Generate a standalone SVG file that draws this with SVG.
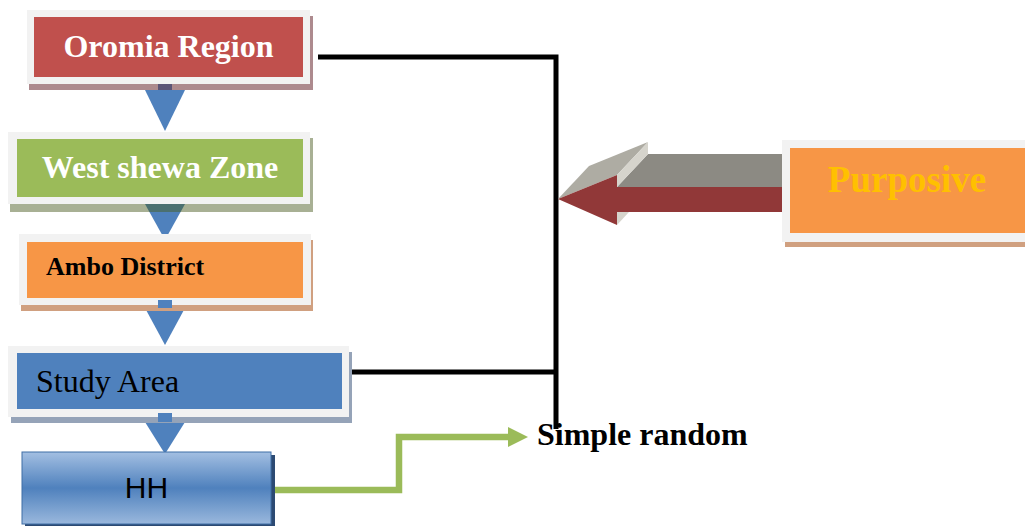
<svg xmlns="http://www.w3.org/2000/svg" width="1025" height="526" viewBox="0 0 1025 526">
  <style>
    .frame { fill: #f2f2f2; }
    .flow { fill: #4f81bd; }
    .bold { font-family: "Liberation Serif", "Times New Roman", serif; font-weight: bold; }
    .serif { font-family: "Liberation Serif", "Times New Roman", serif; }
    .sans { font-family: "Liberation Sans", Arial, sans-serif; }
    .link { fill: none; stroke: #000; stroke-width: 5; }
    .green { fill: none; stroke: #9bbb59; stroke-width: 6.5; }
  </style>
  <defs>
    <linearGradient id="hhFill" x1="0" y1="0" x2="0" y2="1">
      <stop offset="0" stop-color="#a3bfe2"/>
      <stop offset="0.5" stop-color="#4f81bd"/>
      <stop offset="1" stop-color="#9ab8dd"/>
    </linearGradient>
    <marker id="greenHead" markerWidth="20" markerHeight="20" refX="0" refY="10" orient="auto" markerUnits="userSpaceOnUse" viewBox="0 0 20 20">
      <path d="M0,0 L20,10 L0,20 Z" fill="#9bbb59"/>
    </marker>
  </defs>

  <!-- downward flow arrows between the stacked levels -->
  <g id="flow-arrows">
    <polygon class="flow" points="145,90 185,90 165,131"/>
    <polygon class="flow" points="145,204 185,204 165,240"/>
    <rect class="flow" x="158" y="300" width="14" height="8"/>
    <polygon class="flow" points="145,308 185,308 165,345"/>
    <rect class="flow" x="158" y="413" width="14" height="9"/>
    <polygon class="flow" points="145,422 185,422 165,454"/>
  </g>

  <g id="oromia-region">
    <rect x="29" y="16" width="284" height="74" fill="#ad8a8e"/>
    <rect class="frame" x="27" y="10" width="283" height="74"/>
    <rect x="34" y="17" width="269" height="60" fill="#c0504d"/>
    <rect x="158" y="84" width="14" height="6" fill="#5c5577"/>
    <text class="bold" x="168.5" y="57" font-size="32" fill="#ffffff" text-anchor="middle">Oromia Region</text>
  </g>

  <g id="west-shewa-zone">
    <rect x="10" y="138" width="303" height="74" fill="#a8b094"/>
    <rect class="frame" x="8" y="132" width="302" height="72"/>
    <rect x="17" y="139" width="286" height="58" fill="#9bbb59"/>
    <polygon points="145,204 185,204 180.6,212 149.4,212" fill="#4b7070"/>
    <text class="bold" x="160" y="178" font-size="32" fill="#ffffff" text-anchor="middle">West shewa Zone</text>
  </g>

  <g id="ambo-district">
    <rect x="21" y="240" width="292" height="71" fill="#d0a080"/>
    <rect class="frame" x="19" y="234" width="292" height="71"/>
    <rect x="27" y="242" width="276" height="56" fill="#f79646"/>
    <rect class="flow" x="158" y="300" width="14" height="8"/>
    <text class="bold" x="46" y="275" font-size="26" fill="#000000">Ambo District</text>
  </g>

  <g id="study-area">
    <rect x="11" y="352" width="341" height="71" fill="#95a3b8"/>
    <rect class="frame" x="8" y="346" width="341" height="71"/>
    <rect x="17" y="353" width="325" height="56" fill="#4f81bd"/>
    <rect class="flow" x="158" y="413" width="14" height="9"/>
    <text class="serif" x="36" y="392" font-size="32" fill="#000000">Study Area</text>
  </g>

  <g id="hh">
    <rect x="25" y="455" width="250" height="72" fill="#2c4a73"/>
    <rect x="22" y="452" width="249" height="72" fill="url(#hhFill)" stroke="#3f6ea6" stroke-width="1"/>
    <text class="sans" x="146.5" y="498" font-size="30" fill="#000000" text-anchor="middle">HH</text>
  </g>

  <g id="purposive">
    <rect x="785" y="146" width="245" height="101" fill="#d0a080"/>
    <rect class="frame" x="782" y="140" width="250" height="102"/>
    <rect x="790" y="148" width="240" height="85" fill="#f79646"/>
    <text class="bold" x="907" y="192" font-size="37" fill="#ffc000" text-anchor="middle">Purposive</text>
  </g>

  <g id="simple-random">
    <text class="bold" x="537" y="445" font-size="32" fill="#000000">Simple random</text>
  </g>

  <g id="connectors">
    <!-- bracket joining the purposively chosen levels -->
    <polyline class="link" points="318,57 556,57 556,429"/>
    <line class="link" x1="352" y1="372" x2="556" y2="372"/>
    <!-- extruded block arrow pointing from Purposive to the bracket -->
    <g id="purposive-arrow">
      <polygon points="617,187 648,154 782,154 782,187" fill="#8c8a83"/>
      <polygon points="558,199 589,166 648,142 617,175" fill="#aeaca3"/>
      <polygon points="617,175 648,142 648,154 617,187" fill="#d6d4cc"/>
      <polygon points="617,212 617,225 629,212" fill="#d6d4cc"/>
      <polygon points="558,199 617,175 617,187 782,187 782,212 617,212 617,225" fill="#913838"/>
    </g>
    <!-- HH to Simple random -->
    <polyline class="green" points="275,490 399,490 399,437 508,437" marker-end="url(#greenHead)"/>
  </g>
</svg>
